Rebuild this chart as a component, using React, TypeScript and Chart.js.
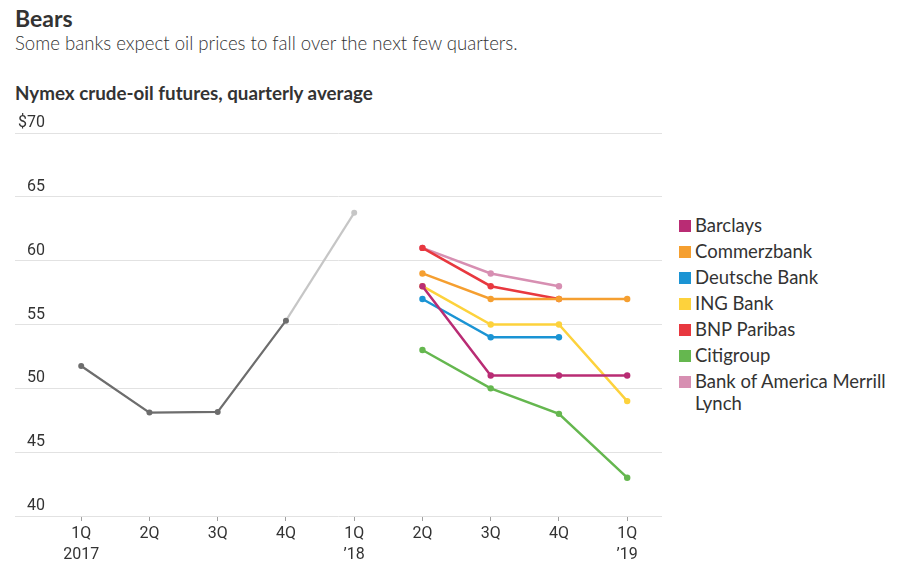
import React, { useEffect, useRef } from "react";
import { Chart, registerables } from "chart.js";

Chart.register(...registerables);

const quarterLabels: string[][] = [
  ["1Q", "2017"],
  ["2Q"],
  ["3Q"],
  ["4Q"],
  ["1Q", "\u201918"],
  ["2Q"],
  ["3Q"],
  ["4Q"],
  ["1Q", "\u201919"],
];

const actualQuarters = [0, 1, 2, 3];
const actualValues = [51.75, 48.1, 48.15, 55.3];
const latestQuarters = [3, 4];
const latestValues = [55.3, 63.75];

const forecastQuarters = [5, 6, 7, 8];
const barclays = [58, 51, 51, 51];
const commerzbank = [59, 57, 57, 57];
const deutscheBank = [57, 54, 54];
const ingBank = [58, 55, 55, 49];
const bnpParibas = [61, 58, 57];
const citigroup = [53, 50, 48, 43];
const bofaMerrill = [61, 59, 58];

const bankNames = [
  "Barclays",
  "Commerzbank",
  "Deutsche Bank",
  "ING Bank",
  "BNP Paribas",
  "Citigroup",
  "Bank of America Merrill Lynch",
];
const bankSeries = [barclays, commerzbank, deutscheBank, ingBank, bnpParibas, citigroup, bofaMerrill];
const bankColors = ["#b92c74", "#f59f30", "#1b94d4", "#fdd23c", "#e8383f", "#65b74f", "#d78fb2"];

const yTickValues = [40, 45, 50, 55, 60, 65, 70];

const tickFont = { family: "Roboto, sans-serif", size: 16, weight: "normal", lineHeight: 1.3 };

export default function App() {
  const canvasRef = useRef<HTMLCanvasElement | null>(null);

  useEffect(() => {
    if (!canvasRef.current) return;
    const toPoints = (xs: number[], ys: number[]) => ys.map((y, i) => ({ x: xs[i], y }));

    const bankDatasets = bankSeries.map((vals, i) => ({
      label: bankNames[i],
      data: toPoints(forecastQuarters, vals),
      borderColor: bankColors[i],
      backgroundColor: bankColors[i],
      borderWidth: 2.5,
      pointRadius: 3.2,
      pointBorderWidth: 0,
      pointHoverRadius: 3.2,
    }));

    const chart = new Chart(canvasRef.current, {
      type: "line",
      data: {
        datasets: [
          ...bankDatasets,
          {
            label: "Actual",
            data: toPoints(actualQuarters, actualValues),
            borderColor: "#6d6d6d",
            backgroundColor: "#6d6d6d",
            borderWidth: 2.2,
            pointRadius: 3,
            pointBorderWidth: 0,
          },
          {
            label: "Latest",
            data: toPoints(latestQuarters, latestValues),
            borderColor: "#c6c6c6",
            backgroundColor: "#c6c6c6",
            borderWidth: 2.2,
            pointRadius: [0, 3],
            pointBorderWidth: 0,
          },
        ],
      },
      options: {
        animation: false,
        responsive: true,
        maintainAspectRatio: false,
        layout: { padding: { left: 15, top: 23, right: 8, bottom: 0 } },
        plugins: { legend: { display: false }, tooltip: { enabled: false }, title: { display: false } },
        scales: {
          x: {
            type: "linear",
            min: -0.97,
            max: 8.51,
            afterBuildTicks: (s: any) => {
              s.ticks = quarterLabels.map((_, i) => ({ value: i }));
            },
            afterFit: (s: any) => {
              s.height = 50;
            },
            ticks: {
              autoSkip: false,
              maxRotation: 0,
              color: "#333",
              font: tickFont,
              padding: 3,
              callback: (v: any) => quarterLabels[v] ?? "",
            },
            grid: { drawOnChartArea: false, drawTicks: true, tickLength: 5, color: "#a0a0a0" },
            border: { display: false },
          },
          y: {
            min: 40,
            max: 70,
            afterBuildTicks: (s: any) => {
              s.ticks = yTickValues.map((v) => ({ value: v }));
            },
            afterFit: (s: any) => {
              s.width = 0;
            },
            ticks: {
              mirror: true,
              crossAlign: "far",
              padding: 3,
              labelOffset: -10,
              color: "#333",
              font: tickFont,
              callback: (v: any) => (v === 70 ? "$70" : String(v)),
            },
            grid: { drawTicks: false, color: "#e2e2e2", lineWidth: 1 },
            border: { display: false },
          },
        },
      } as any,
    });
    return () => chart.destroy();
  }, []);

  const textFont = "Lato, 'Open Sans', sans-serif";

  return (
    <div style={{ position: "fixed", left: 0, top: 0, width: 910, height: 583, background: "#fff", overflow: "hidden" }}>
      <div style={{ position: "absolute", left: 15, top: 4, fontFamily: textFont, fontWeight: 700, fontSize: 23, color: "#333" }}>
        Bears
      </div>
      <div style={{ position: "absolute", left: 15, top: 32, fontFamily: textFont, fontWeight: 300, fontSize: 18.6, color: "#333" }}>
        Some banks expect oil prices to fall over the next few quarters.
      </div>
      <div style={{ position: "absolute", left: 15, top: 81, fontFamily: textFont, fontWeight: 700, fontSize: 18.8, color: "#333" }}>
        Nymex crude-oil futures, quarterly average
      </div>
      <div style={{ position: "absolute", left: 0, top: 110, width: 670, height: 456 }}>
        <canvas ref={canvasRef} />
      </div>
      <div style={{ position: "absolute", left: 679, top: 214, fontFamily: textFont, fontSize: 18.5, color: "#333" }}>
        {bankNames.map((name, i) => (
          <div key={name} style={{ position: "relative", paddingLeft: 16, lineHeight: "22px", marginBottom: 4, width: 215 }}>
            <span
              style={{
                position: "absolute",
                left: 0,
                top: 6,
                width: 12,
                height: 12,
                background: bankColors[i],
              }}
            />
            {name}
          </div>
        ))}
      </div>
    </div>
  );
}
